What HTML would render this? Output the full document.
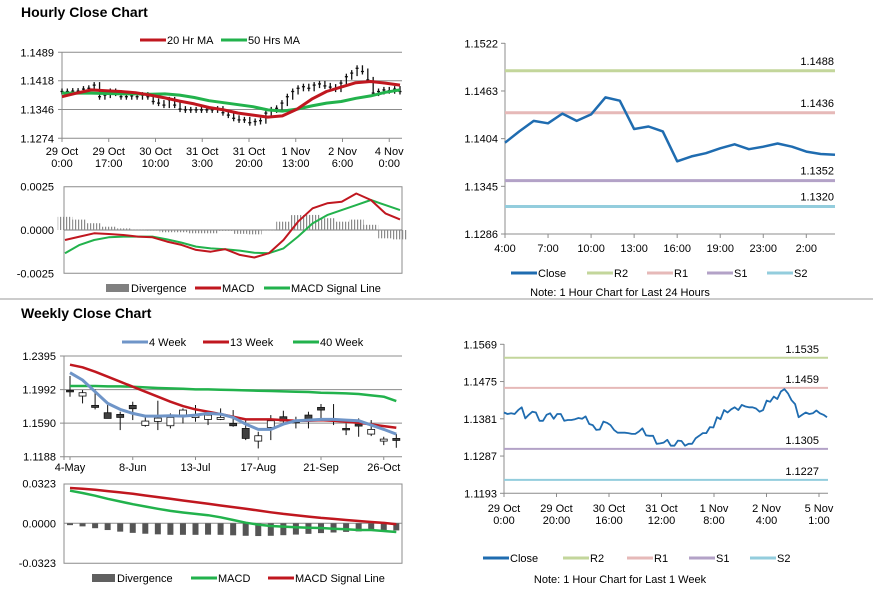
<!DOCTYPE html>
<html><head><meta charset="utf-8">
<style>
html,body{margin:0;padding:0;background:#fff;}
svg{display:block;font-family:"Liberation Sans",Arial,sans-serif;}
.t{font-size:11px;fill:#000;}
.ttl{font-size:14px;font-weight:bold;fill:#000;}
</style></head>
<body>
<svg id="chart" width="873" height="601" viewBox="0 0 873 601" xmlns="http://www.w3.org/2000/svg">
<text x="21" y="17" class="ttl">Hourly Close Chart</text>
<text x="21" y="318" class="ttl">Weekly Close Chart</text>
<line x1="0" y1="299" x2="873" y2="299" stroke="#9a9a9a" stroke-width="1"/>
<defs>
<pattern id="hatch" width="3" height="4" patternUnits="userSpaceOnUse"><rect x="0" y="0" width="1.2" height="4" fill="#8a8a8a"/></pattern>
</defs>
<g id="g"></g>
</svg>
<script>
// ---------- Hourly candles (close every 2h) ----------
const hourlyClose=[1.1391,1.1391,1.1392,1.1392,1.1397,1.1399,1.1407,1.1378,1.1382,1.1391,1.1387,1.1378,1.1378,1.1380,1.1378,1.1382,1.1378,1.1366,1.1362,1.1357,1.1370,1.1357,1.1347,1.1345,1.1345,1.1345,1.1345,1.1345,1.1345,1.1347,1.1338,1.1332,1.1324,1.1320,1.1320,1.1313,1.1316,1.1318,1.1337,1.1345,1.1349,1.1362,1.1378,1.1391,1.1399,1.1403,1.1399,1.1407,1.1410,1.1405,1.1402,1.1397,1.1412,1.1428,1.1437,1.1449,1.1441,1.1420,1.1387,1.1391,1.1395,1.1393,1.1397,1.1391];
const ma20=[1.1378,1.1387,1.1395,1.1393,1.1391,1.1388,1.1382,1.1375,1.1367,1.1360,1.1351,1.1345,1.1337,1.1332,1.1327,1.1330,1.1347,1.1372,1.1391,1.1402,1.1413,1.1416,1.1412,1.1407];
const ma50=[1.1387,1.1387,1.1387,1.1386,1.1385,1.1385,1.1384,1.1385,1.1382,1.1376,1.1368,1.1363,1.1358,1.1353,1.1345,1.1342,1.1347,1.1355,1.1362,1.1366,1.1374,1.1380,1.1389,1.1395];
const hourlyYTicks=[1.1489,1.1418,1.1346,1.1274];
const hourlyXTickHours=[0,17,34,51,68,85,102,119];
const hourlyXLabels=[["29 Oct","0:00"],["29 Oct","17:00"],["30 Oct","10:00"],["31 Oct","3:00"],["31 Oct","20:00"],["1 Nov","13:00"],["2 Nov","6:00"],["4 Nov","0:00"]];
const hMacd=[-0.00058,-0.00038,-0.00019,-0.00023,-0.00029,-0.00038,-0.00042,-0.00067,-0.00086,-0.00115,-0.00125,-0.00111,-0.00144,-0.00159,-0.00134,-0.00058,0.00048,0.00125,0.00154,0.00163,0.00211,0.00173,0.00096,0.00061];
const hSignal=[-0.00134,-0.00086,-0.00058,-0.00042,-0.00038,-0.00038,-0.00038,-0.00054,-0.00073,-0.00096,-0.00106,-0.00111,-0.00119,-0.00131,-0.00134,-0.00106,-0.00038,0.00038,0.00086,0.00115,0.00144,0.00173,0.00144,0.00115];
const hDiv=[0.00076,0.00060,0.00039,0.00019,0.00009,0.00002,-0.00004,-0.00013,-0.00013,-0.00019,-0.00019,-0.00005,-0.00022,-0.00025,-0.00002,0.00048,0.00086,0.00087,0.00068,0.00048,0.00060,0.00030,-0.00048,-0.00054];
const hMacdTicks=[0.0025,0.0000,-0.0025];
// ---------- 24h chart ----------
const dayLabels=["4:00","7:00","10:00","13:00","16:00","19:00","23:00","2:00"];
const dayLabelIdx=[0,3,6,9,12,15,18,21];
const dayClose=[1.1399,1.1413,1.1426,1.1423,1.1435,1.1426,1.1434,1.1455,1.1451,1.1416,1.1419,1.1413,1.1376,1.1382,1.1386,1.1392,1.1397,1.1391,1.1394,1.1398,1.1394,1.1388,1.1385,1.1384];
const dayYTicks=[1.1522,1.1463,1.1404,1.1345,1.1286];
const dayLevels=[1.1488,1.1436,1.1352,1.1320];
// ---------- Weekly ----------
const wkLabels=["4-May","8-Jun","13-Jul","17-Aug","21-Sep","26-Oct"];
const wkLabelIdx=[0,5,10,15,20,25];
const wkOpen=[1.1983,1.1915,1.1803,1.1715,1.1695,1.1803,1.1563,1.1611,1.1559,1.1687,1.1667,1.1635,1.1635,1.1587,1.1527,1.1375,1.1539,1.1667,1.1627,1.1687,1.1779,1.1635,1.1527,1.1579,1.1459,1.1375,1.1407];
const wkClose=[1.1971,1.1955,1.1779,1.1647,1.1659,1.1763,1.1615,1.1651,1.1659,1.1747,1.1675,1.1687,1.1659,1.1559,1.1407,1.1439,1.1619,1.1615,1.1595,1.1635,1.1747,1.1631,1.1515,1.1555,1.1515,1.1399,1.1383];
const wkHigh=[1.2155,1.1987,1.1995,1.1807,1.1727,1.1847,1.1667,1.1859,1.1707,1.1767,1.1807,1.1727,1.1767,1.1747,1.1627,1.1487,1.1687,1.1739,1.1667,1.1727,1.1819,1.1819,1.1587,1.1647,1.1627,1.1427,1.1459];
const wkLow=[1.1907,1.1827,1.1755,1.1647,1.1507,1.1627,1.1547,1.1507,1.1527,1.1587,1.1607,1.1567,1.1627,1.1547,1.1387,1.1287,1.1387,1.1587,1.1527,1.1527,1.1635,1.1567,1.1447,1.1427,1.1435,1.1327,1.1295];
const ma4w=[1.2195,1.2107,1.1967,1.1827,1.1755,1.1707,1.1675,1.1675,1.1679,1.1675,1.1687,1.1707,1.1699,1.1659,1.1579,1.1515,1.1515,1.1579,1.1619,1.1627,1.1635,1.1635,1.1627,1.1619,1.1567,1.1515,1.1459];
const ma13w=[1.2291,1.2259,1.2207,1.2147,1.2087,1.2027,1.1967,1.1907,1.1847,1.1795,1.1755,1.1727,1.1699,1.1667,1.1635,1.1635,1.1635,1.1627,1.1619,1.1619,1.1627,1.1619,1.1607,1.1595,1.1575,1.1555,1.1535];
const ma40w=[1.2035,1.2035,1.2035,1.2031,1.2031,1.2027,1.2019,1.2011,1.2007,1.2003,1.1995,1.1995,1.1991,1.1987,1.1983,1.1979,1.1975,1.1971,1.1967,1.1963,1.1955,1.1951,1.1947,1.1939,1.1923,1.1907,1.1855];
const wkYTicks=[1.2395,1.1992,1.1590,1.1188];
const wMacd=[0.0266,0.0247,0.0225,0.0200,0.0178,0.0156,0.0137,0.0118,0.0101,0.0088,0.0077,0.0066,0.0049,0.0027,0.0005,-0.0011,-0.0022,-0.0027,-0.0033,-0.0036,-0.0038,-0.0044,-0.0049,-0.0055,-0.0055,-0.0063,-0.0071];
const wSignal=[0.0288,0.0282,0.0274,0.0263,0.0252,0.0241,0.0227,0.0214,0.0200,0.0186,0.0173,0.0159,0.0145,0.0132,0.0118,0.0104,0.0090,0.0077,0.0066,0.0055,0.0044,0.0036,0.0027,0.0019,0.0011,0.0003,-0.0008];
const wDiv=[-0.0015,-0.0025,-0.0040,-0.0055,-0.0068,-0.0078,-0.0085,-0.0090,-0.0094,-0.0094,-0.0094,-0.0093,-0.0094,-0.0098,-0.0102,-0.0104,-0.0102,-0.0097,-0.0092,-0.0086,-0.0080,-0.0075,-0.0070,-0.0066,-0.0062,-0.0060,-0.0058];
const wMacdTicks=[0.0323,0.0000,-0.0323];
// ---------- 1 week hourly ----------
const wkHrLabels=[["29 Oct","0:00"],["29 Oct","20:00"],["30 Oct","16:00"],["31 Oct","12:00"],["1 Nov","8:00"],["2 Nov","4:00"],["5 Nov","1:00"]];
const wkHrTickHours=[0,20,40,60,80,100,120];
const weekClose=[1.1397,1.1393,1.1395,1.1393,1.1403,1.1410,1.1382,1.1391,1.1399,1.1397,1.1376,1.1376,1.1391,1.1395,1.1381,1.1393,1.1393,1.1376,1.1378,1.1378,1.1380,1.1383,1.1381,1.1387,1.1368,1.1365,1.1353,1.1354,1.1374,1.1371,1.1365,1.1353,1.1346,1.1346,1.1346,1.1345,1.1343,1.1343,1.1349,1.1357,1.1339,1.1338,1.1338,1.1318,1.1319,1.1321,1.1328,1.1313,1.1313,1.1326,1.1325,1.1313,1.1318,1.1318,1.1332,1.1338,1.1345,1.1345,1.1360,1.1359,1.1385,1.1380,1.1403,1.1397,1.1405,1.1410,1.1403,1.1416,1.1412,1.1410,1.1410,1.1407,1.1399,1.1403,1.1427,1.1424,1.1437,1.1431,1.1450,1.1456,1.1445,1.1428,1.1418,1.1385,1.1391,1.1397,1.1393,1.1395,1.1402,1.1395,1.1391,1.1385];
const weekYTicks=[1.1569,1.1475,1.1381,1.1287,1.1193];
const weekLevels=[1.1535,1.1459,1.1305,1.1227];

const NS="http://www.w3.org/2000/svg";
const G=document.getElementById('g');
function mk(tag,attrs){const e=document.createElementNS(NS,tag);for(const k in attrs)e.setAttribute(k,attrs[k]);G.appendChild(e);return e;}
function txt(x,y,s,anchor){const e=mk('text',{x:x,y:y,class:'t','text-anchor':anchor||'start'});e.textContent=s;return e;}
function poly(arr,fx,fy,color,w){return mk('path',{d:arr.map((v,i)=>(i?'L':'M')+fx(i).toFixed(1)+','+fy(v).toFixed(1)).join(''),fill:'none',stroke:color,'stroke-width':w,'stroke-linejoin':'round'});}
const RED='#c0171f',GRN='#22b24c',BLU='#6f95c8',CLO='#1f6cb0';
const LV=['#c3d69b','#e6b9b8','#b3a2c7','#93cddd'];

// ===== Hourly candles =====
const hy=v=>52.3+(1.1489-v)/0.0215*86;
const hx=i=>62+i*(338/(hourlyClose.length-1));
const hmx=i=>62+i*(338/(ma20.length-1));
const hh=h=>62+h*2.75;
hourlyYTicks.forEach((v,i)=>{
  const l=mk('line',{x1:58,x2:402,y1:hy(v),y2:hy(v),stroke:'#8c8c8c','stroke-width':1});
  
  
  const t=txt(54,hy(v)+4,v.toFixed(4),'end');
  
  
});
{const a=mk('line',{x1:62,x2:62,y1:52,y2:142,stroke:'#8c8c8c'});

}
hourlyXTickHours.forEach((h,i)=>{
  const k=mk('line',{x1:hh(h),x2:hh(h),y1:138,y2:142,stroke:'#8c8c8c'});
  
  
  const t1=txt(hh(h),155,hourlyXLabels[i][0],'middle');
  
  
  const t2=txt(hh(h),167,hourlyXLabels[i][1],'middle');
  
  
});
hourlyClose.forEach((v,i)=>{
  const p=i?hourlyClose[i-1]:v;
  const y1=Math.min(hy(p),hy(v))-3,y2=Math.max(hy(p),hy(v))+3;
  const b=mk('line',{x1:hx(i),x2:hx(i),y1:y1,y2:y2,stroke:'#111','stroke-width':1.3});
  
  
  const c=mk('line',{x1:hx(i)-1.5,x2:hx(i)+1.5,y1:hy(v),y2:hy(v),stroke:'#111','stroke-width':1.3});
  
  
});
{const l=poly(ma50,hmx,hy,GRN,3);


const r=poly(ma20,hmx,hy,RED,3);

}

// ===== Hourly MACD =====
const dy=v=>230-v/0.0025*43.3;
const dx=i=>65+i*(335/(hMacd.length-1));
hMacdTicks.forEach(v=>{
  const t=txt(54,dy(v)+4,v.toFixed(4),'end');
  
  
});
{const b=mk('path',{d:'M64,186.7H402V273.3H64Z',fill:'none',stroke:'#8c8c8c'});


const z=mk('line',{x1:64,x2:402,y1:230,y2:230,stroke:'#777'});

}
const dw=335/(hDiv.length-1);
hDiv.forEach((v,i)=>{
  const y=Math.min(dy(v),230),h=Math.abs(dy(v)-230);
  const r=mk('rect',{x:dx(i)-dw/2,y:y,width:dw,height:h,fill:'url(#hatch)'});
  
  
});
{const s=poly(hSignal,dx,dy,GRN,2);


const m=poly(hMacd,dx,dy,RED,2);

}

// ===== 24h chart =====
const ry=v=>43.3+(1.1522-v)/0.0236*190.7;
const rx=i=>505+i*(330/(dayClose.length-1));
{const a=mk('path',{d:'M505,43V234H835',fill:'none',stroke:'#8c8c8c'});

}
dayYTicks.forEach(v=>{
  const k=mk('line',{x1:501,x2:505,y1:ry(v),y2:ry(v),stroke:'#8c8c8c'});
  
  
  const t=txt(498,ry(v)+4,v.toFixed(4),'end');
  
  
});
dayLabelIdx.forEach((ix,i)=>{
  const k=mk('line',{x1:rx(ix),x2:rx(ix),y1:234,y2:238,stroke:'#8c8c8c'});
  
  
  const t=txt(rx(ix),252,dayLabels[i],'middle');
  
  
});
dayLevels.forEach((v,i)=>{
  const l=mk('line',{x1:505,x2:835,y1:ry(v),y2:ry(v),stroke:LV[i],'stroke-width':3});
  
  
  const t=txt(834,ry(v)-6,v.toFixed(4),'end');
  
  
});
{const c=poly(dayClose,rx,ry,CLO,2.5);

}

// ===== Weekly candles =====
const wy=v=>356+(1.2395-v)/0.1207*100.7;
const wx=i=>70+i*12.55;
wkYTicks.forEach(v=>{
  const l=mk('line',{x1:60,x2:402,y1:wy(v),y2:wy(v),stroke:'#8c8c8c'});
  
  
  const t=txt(56,wy(v)+4,v.toFixed(4),'end');
  
  
});
{const a=mk('line',{x1:64,x2:64,y1:356,y2:460,stroke:'#8c8c8c'});

}
wkLabelIdx.forEach((ix,i)=>{
  const k=mk('line',{x1:wx(ix),x2:wx(ix),y1:456.7,y2:460,stroke:'#8c8c8c'});
  
  
  const t=txt(wx(ix),471,wkLabels[i],'middle');
  
  
});
wkOpen.forEach((o,i)=>{
  const c=wkClose[i];
  const w=mk('line',{x1:wx(i),x2:wx(i),y1:wy(wkHigh[i]),y2:wy(wkLow[i]),stroke:'#111','stroke-width':1});
  
  
  const top=Math.min(wy(o),wy(c)),h=Math.max(1.5,Math.abs(wy(o)-wy(c)));
  const b=mk('rect',{x:wx(i)-3.5,y:top,width:7,height:h,fill:c<o?'#404040':'#fff',stroke:'#111','stroke-width':0.8});
  
  
});
{const a=poly(ma40w,wx,wy,GRN,2.5);


const b=poly(ma13w,wx,wy,RED,2.5);


const c=poly(ma4w,wx,wy,BLU,3);

}

// ===== Weekly MACD =====
const my=v=>523.3-v/0.0323*39.6;
{const b=mk('path',{d:'M64,484H402V563.3H64Z',fill:'none',stroke:'#8c8c8c'});


const z=mk('line',{x1:64,x2:402,y1:523.3,y2:523.3,stroke:'#8c8c8c'});

}
wMacdTicks.forEach(v=>{
  const t=txt(56,my(v)+4,v.toFixed(4),'end');
  
  
});
wDiv.forEach((v,i)=>{
  const r=mk('rect',{x:wx(i)-3,y:523.3,width:6,height:my(v)-523.3,fill:'#555'});
  
  
});
{const a=poly(wSignal,wx,my,RED,2.5);


const b=poly(wMacd,wx,my,GRN,2.5);

}

// ===== 1 week hourly chart =====
const by=v=>344.3+(1.1569-v)/0.0376*149;
const bx=i=>504+i*(323/(weekClose.length-1));
const bh=h=>504+h*2.625;
{const a=mk('path',{d:'M504,344V493.3H828',fill:'none',stroke:'#8c8c8c'});

}
weekYTicks.forEach(v=>{
  const k=mk('line',{x1:500,x2:504,y1:by(v),y2:by(v),stroke:'#8c8c8c'});
  
  
  const t=txt(497,by(v)+4,v.toFixed(4),'end');
  
  
});
wkHrTickHours.forEach((h,i)=>{
  const k=mk('line',{x1:bh(h),x2:bh(h),y1:493.3,y2:497,stroke:'#8c8c8c'});
  
  
  const t1=txt(bh(h),512,wkHrLabels[i][0],'middle');
  
  
  const t2=txt(bh(h),524,wkHrLabels[i][1],'middle');
  
  
});
weekLevels.forEach((v,i)=>{
  const l=mk('line',{x1:504,x2:828,y1:by(v),y2:by(v),stroke:LV[i],'stroke-width':2});
  
  
  const t=txt(819,by(v)-5,v.toFixed(4),'end');
  
  
});
{const c=poly(weekClose,bx,by,CLO,1.8);

}
</script>
<script>
// legends (static)
const L=document.getElementById('g');
const NS2="http://www.w3.org/2000/svg";
const legends=[
 [140,40,'#c0171f','20 Hr MA','line'],[221,40,'#22b24c','50 Hrs MA','line'],
 [106,288,'#808080','Divergence','bar'],[195,288,'#c0171f','MACD','line'],[264,288,'#22b24c','MACD Signal Line','line'],
 [122,342,'#6f95c8','4 Week','line'],[203,342,'#c0171f','13 Week','line'],[293,342,'#22b24c','40 Week','line'],
 [92,578,'#606060','Divergence','bar'],[191,578,'#22b24c','MACD','line'],[268,578,'#c0171f','MACD Signal Line','line'],
 [511,273,'#1f6cb0','Close','line'],[587,273,'#c3d69b','R2','line'],[647,273,'#e6b9b8','R1','line'],[707,273,'#b3a2c7','S1','line'],[767,273,'#93cddd','S2','line'],
 [483,558,'#1f6cb0','Close','line'],[563,558,'#c3d69b','R2','line'],[627,558,'#e6b9b8','R1','line'],[689,558,'#b3a2c7','S1','line'],[750,558,'#93cddd','S2','line']
];
legends.forEach(d=>{
  const g=document.createElementNS(NS2,'g');
  
  
  const m=document.createElementNS(NS2,'rect');
  m.setAttribute('x',d[0]);m.setAttribute('width',d[4]==='bar'?23:26);
  m.setAttribute('y',d[4]==='bar'?d[1]-4:d[1]-1.5);m.setAttribute('height',d[4]==='bar'?8:3);
  m.setAttribute('fill',d[2]);
  g.appendChild(m);
  const t=document.createElementNS(NS2,'text');
  t.setAttribute('x',d[0]+(d[4]==='bar'?25:27));t.setAttribute('y',d[1]+4);t.setAttribute('class','t');
  t.textContent=d[3];
  g.appendChild(t);
  L.appendChild(g);
});
[[620,296,'Note: 1 Hour Chart for Last 24 Hours'],[620,583,'Note: 1 Hour Chart for Last 1 Week']].forEach(n=>{
  const t=document.createElementNS(NS2,'text');
  t.setAttribute('x',n[0]);t.setAttribute('y',n[1]);t.setAttribute('class','t');t.setAttribute('text-anchor','middle');
  t.textContent=n[2];
  
  
  L.appendChild(t);
});
</script>
</body></html>
